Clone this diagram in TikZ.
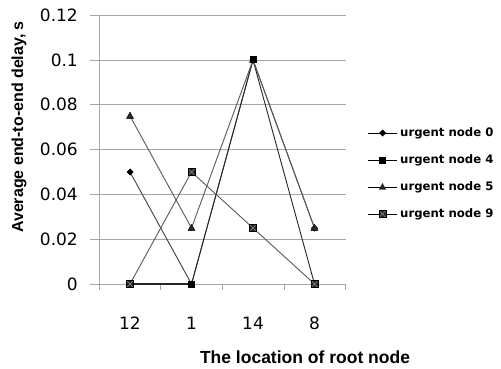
\documentclass[tikz,border=0pt]{standalone}
\usepackage{fontspec}
\setmainfont{DejaVu Sans}
\newfontfamily\arialfont{Liberation Sans}
\tikzset{
  grid line/.style={draw=gray!70, line width=0.8bp},
  series/.style={draw=black!75, line width=0.9bp},
  tick label/.style={font=\fontsize{17bp}{20bp}\selectfont, inner sep=0pt},
  axis title/.style={font=\arialfont\bfseries\fontsize{#1}{20bp}\selectfont, inner sep=0pt},
  legend text/.style={font=\bfseries\fontsize{11.7bp}{14bp}\selectfont, inner sep=0pt, anchor=west},
  msquare/.style={fill=black, inner sep=0pt, minimum size=7bp},
  mxsquare/.style={fill=black!85, draw=black, line width=0.6bp, inner sep=0pt, minimum size=7bp,
    path picture={\draw[black!45, line width=0.5bp] (path picture bounding box.south west) -- (path picture bounding box.north east)
      (path picture bounding box.north west) -- (path picture bounding box.south east);}},
}
\newcommand{\putdiamond}[1]{\fill[black] (#1) ++(0,-3.5) -- ++(3.5,3.5) -- ++(-3.5,3.5) -- ++(-3.5,-3.5) -- cycle;}
\newcommand{\puttriangle}[1]{\fill[black!85] (#1) ++(0,-4) -- ++(3.6,6.5) -- ++(-7.2,0) -- cycle;}
\begin{document}
\begin{tikzpicture}[x=1bp,y=-1bp]

	%Background
	\fill[white] (0,0) rectangle (501,368);

	%Grid
	\foreach \v/\lab in {0/0, 0.02/0.02, 0.04/0.04, 0.06/0.06, 0.08/0.08, 0.1/0.1, 0.12/0.12}{
		\pgfmathsetmacro{\yy}{284-2240*\v}
		\draw[grid line] (90,\yy) -- (346,\yy);
		\node[tick label, anchor=east] at (78,\yy) {\lab};
	}

	%Axes
	\draw[grid line] (99,15) -- (99,290);
	\foreach \xx in {160.7,222.3,284,345.7}
		\draw[grid line] (\xx,284) -- (\xx,290);

	%Categories
	\foreach \xx/\lab in {130/12, 191.5/1, 253/14, 314.5/8}
		\node[tick label] at (\xx,323) {\lab};

	%Titles
	\node[axis title=17.5bp] (xtitle) at (305,357) {The location of root node};
	\node[axis title=16bp, rotate=90] (ytitle) at (19,127) {Average end-to-end delay, s};

	%Data points
	\foreach \s/\a/\b/\c/\d in {n0/0.05/0/0.1/0.025, n4/0/0/0.1/0, n5/0.075/0.025/0.1/0.025, n9/0/0.05/0.025/0}{
		\coordinate (\s-1) at (130,{284-2240*\a});
		\coordinate (\s-2) at (191.5,{284-2240*\b});
		\coordinate (\s-3) at (253,{284-2240*\c});
		\coordinate (\s-4) at (314.5,{284-2240*\d});
	}

	%Series lines
	\draw[series] (n0-1) -- (n0-2) -- (n0-3) -- (n0-4);
	\draw[series, draw=black!85, line width=1.4bp] (n4-1) -- (n4-2);
	\draw[series, draw=black!85] (n4-2) -- (n4-3) -- (n4-4);
	\draw[series, draw=black!65] (n5-1) -- (n5-2) -- (n5-3) -- (n5-4);
	\draw[series, draw=black!65] (n9-1) -- (n9-2) -- (n9-3) -- (n9-4);

	%Markers
	\foreach \i in {1,...,4} \putdiamond{n0-\i}
	\foreach \i in {1,...,4} \puttriangle{n5-\i}
	\foreach \i in {1,...,4} \node[msquare] at (n4-\i) {};
	\foreach \i in {1,...,4} \node[mxsquare] at (n9-\i) {};

	%Legend
	\foreach \s/\yy/\lab in {n0/133/0, n4/160/4, n5/187/5, n9/214/9}{
		\coordinate (\s-la) at (368,\yy);
		\coordinate (\s-lb) at (397,\yy);
		\coordinate (\s-lm) at (382.5,\yy);
		\draw[series, draw=black] (\s-la) -- (\s-lb);
		\node[legend text] (\s-text) at (400,\yy) {urgent node \lab};
	}
	\putdiamond{n0-lm}
	\node[msquare] at (n4-lm) {};
	\puttriangle{n5-lm}
	\node[mxsquare] at (n9-lm) {};

\end{tikzpicture}
\end{document}
